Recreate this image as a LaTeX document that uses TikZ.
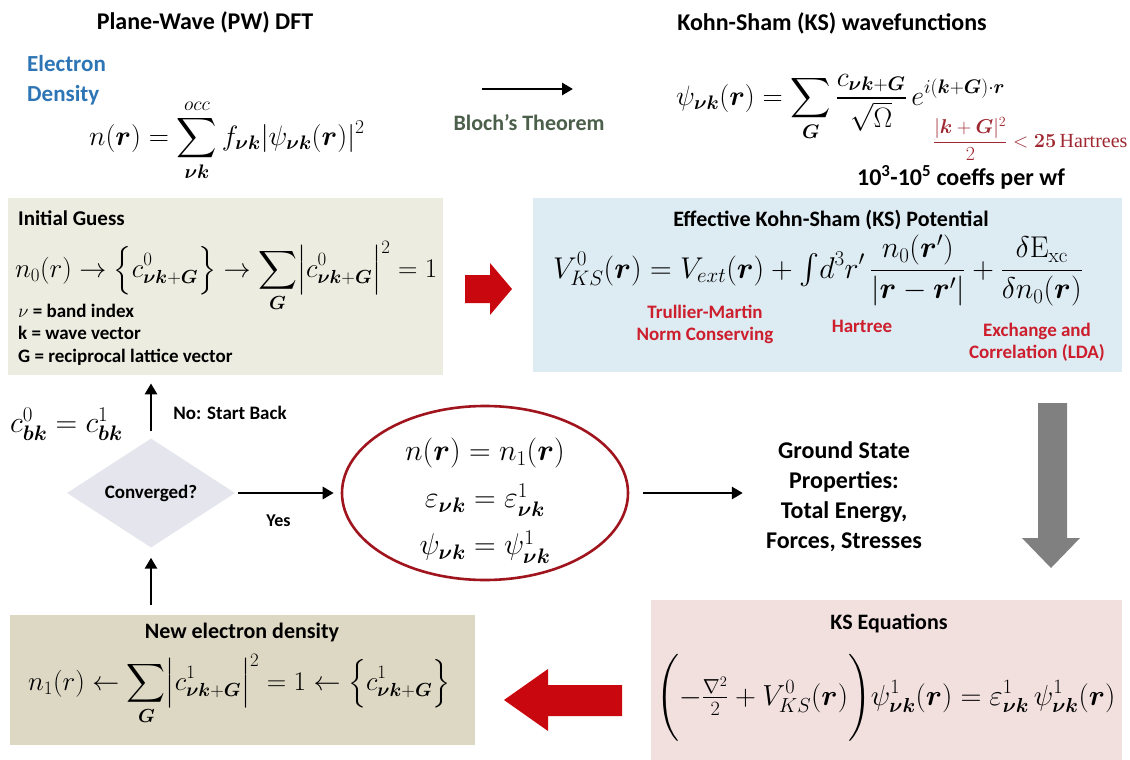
\RequirePackage{fix-cm}
\documentclass[tikz,border=0pt]{standalone}
\usepackage{amsmath,amssymb,bm}
\usepackage[no-math]{fontspec}
\setmainfont{Carlito}
\newfontfamily\serifface{Liberation Serif}
\usetikzlibrary{shapes.geometric, arrows.meta, positioning, calc}
\usepackage{xcolor}

\definecolor{guessfill}{RGB}{236,237,224}
\definecolor{potfill}{RGB}{221,235,242}
\definecolor{densfill}{RGB}{221,216,195}
\definecolor{ksfill}{RGB}{242,224,223}
\definecolor{convfill}{RGB}{229,229,237}
\definecolor{ringred}{RGB}{160,20,30}
\definecolor{arrowred}{RGB}{200,8,14}
\definecolor{arrowgray}{RGB}{128,128,128}
\definecolor{densblue}{RGB}{46,117,182}
\definecolor{blochgreen}{RGB}{75,95,75}
\definecolor{labelred}{RGB}{205,30,45}
\definecolor{cutred}{RGB}{160,40,50}

\newcommand{\vr}{\bm{r}}
\newcommand{\nk}{\bm{\nu k}}

\begin{document}
\begin{tikzpicture}[
    x=1pt, y=-1pt,
    >={Triangle[length=11pt, width=12pt]},
    panel/.style={rectangle, inner sep=0pt, anchor=north west},
    heading/.style={font=\fontsize{22}{26}\selectfont\bfseries, inner sep=0pt},
    toptitle/.style={heading, font=\fontsize{24}{28}\selectfont\bfseries},
    eqn/.style={font=\fontsize{28}{32}\selectfont, inner sep=0pt},
    small/.style={font=\fontsize{19}{22}\selectfont\bfseries, inner sep=0pt},
    redlabel/.style={small, text=labelred, align=center},
    arrow/.style={->, line width=2.8pt}
  ]
    \useasboundingbox[fill=white] (0,0) rectangle (1130,760);

    % --- Top row: PW DFT and KS wavefunctions ---
    \node[toptitle, anchor=base] (pwtitle) at (205,30) {Plane-Wave (PW) DFT};
    \node[heading, font=\fontsize{23}{29}\selectfont\bfseries, text=densblue,
      align=left, anchor=base west] (edens) at (27,101) {Electron\\Density};
    \node[eqn, anchor=base west] (nform) at (89,145)
      {$\displaystyle n(\vr)=\sum_{\nk}^{occ} f_{\nk}|\psi_{\nk}(\vr)|^2$};

    \coordinate (blochL) at (482,89);
    \coordinate (blochR) at (573,89);
    \draw[arrow] (blochL) -- (blochR);
    \node[font=\fontsize{22}{24}\selectfont\bfseries, text=blochgreen, anchor=base,
      inner sep=0pt] (bloch) at (529,130) {Bloch’s Theorem};

    \node[toptitle, anchor=base] (kstitle) at (832,31) {Kohn-Sham (KS) wavefunctions};
    \node[eqn, anchor=base west] (psiform) at (676,105)
      {$\displaystyle \psi_{\nk}(\vr)=\sum_{\bm G}\frac{c_{\nk+\bm G}}{\sqrt{\Omega}}\,e^{i(\bm k+\bm G)\cdot\vr}$};
    \node[text=cutred, font=\fontsize{20}{22}\selectfont, inner sep=0pt, anchor=west] (cutoff)
      at (933,139) {$\dfrac{|\bm k+\bm G|^2}{2}<\mathbf{25}$\,{\serifface Hartrees}};
    \node[font=\fontsize{24}{26}\selectfont\bfseries, anchor=base, inner sep=0pt] (coeffs)
      at (961,185) {10\textsuperscript{3}-10\textsuperscript{5} coeffs per wf};

    % --- Initial guess ---
    \node[panel, fill=guessfill, minimum width=435, minimum height=177] (guess) at (8,198) {};
    \node[heading, font=\fontsize{21}{24}\selectfont\bfseries, anchor=base west]
      (guesstitle) at (18,225) {Initial Guess};
    \node[eqn, font=\fontsize{27}{30}\selectfont, anchor=base west] (guesseq) at (15,277)
      {$\displaystyle n_0(r)\rightarrow\Bigl\{c^0_{\nk+\bm G}\Bigr\}\rightarrow\sum_{\bm G}\Bigl|c^0_{\nk+\bm G}\Bigr|^2=1$};
    \foreach \y/\txt in {317/{$\nu$ = band index}, 339/{k = wave vector},
                         362/{G = reciprocal lattice vector}}
      \node[small, anchor=base west] at (18,\y) {\txt};

    % --- Effective KS potential ---
    \node[panel, fill=potfill, minimum width=589, minimum height=174] (pot) at (533,198) {};
    \node[heading, anchor=base] (pottitle) at (831,226) {Effective Kohn-Sham (KS) Potential};
    \node[eqn, font=\fontsize{30}{34}\selectfont, anchor=base west] (poteq) at (553,278)
      {$\displaystyle V^0_{KS}(\vr)=V_{ext}(\vr)+{\textstyle\int} d^3r'\,\frac{n_0(\vr')}{|\vr-\vr'|}+\frac{\delta\mathrm{E}_{\mathrm{xc}}}{\delta n_0(\vr)}$};
    \node[redlabel] (tmlabel) at (705,324) {Trullier-Martin\\Norm Conserving};
    \node[redlabel] (hlabel) at (862,326) {Hartree};
    \node[redlabel] (xclabel) at (1037,342) {Exchange and\\Correlation (LDA)};

    % block arrow guess -> potential
    \fill[arrowred] (465,275) -- (490,275) -- (490,263) -- (512,289)
      -- (490,315) -- (490,303) -- (465,303) -- cycle;

    % --- Convergence loop ---
    \node[eqn, font=\fontsize{30}{34}\selectfont, anchor=base west] (cbk) at (10,432)
      {$c^0_{\bm{bk}}=c^1_{\bm{bk}}$};
    \node[diamond, fill=convfill, minimum width=168, minimum height=85, inner sep=0pt,
      font=\fontsize{19}{22}\selectfont\bfseries] (conv) at (151,493) {Converged?};
    \node[ellipse, draw=ringred, line width=2.6pt, minimum width=286, minimum height=174,
      inner sep=0pt] (final) at (485,493) {};
    \node[align=center, inner sep=0pt, font=\fontsize{30}{47}\selectfont] (finaltxt) at (485,501)
      {$n(\vr)=n_1(\vr)$\\$\varepsilon_{\nk}=\varepsilon^1_{\nk}$\\$\psi_{\nk}=\psi^1_{\nk}$};
    \node[font=\fontsize{24}{30}\selectfont\bfseries, align=center, inner sep=0pt] (ground)
      at (844,497) {Ground State\\Properties:\\Total Energy,\\Forces, Stresses};

    \draw[arrow, shorten <=7pt, shorten >=8pt] (conv.north) -- (conv.north |- guess.south)
      node[pos=0.4, right=21pt, small] {No: Start Back};
    \draw[arrow, shorten <=3pt, shorten >=7pt] (conv.east) -- (final.west)
      node[pos=0.41, below=20pt, small, font=\fontsize{18}{20}\selectfont\bfseries] {Yes};
    \draw[arrow, shorten <=14pt, shorten >=23pt] (final.east) -- (final.east -| ground.west);

    % gray block arrow potential -> KS equations
    \fill[arrowgray] (1038,403) -- (1067,403) -- (1067,538) -- (1080,538)
      -- (1051,568) -- (1022,538) -- (1038,538) -- cycle;

    % --- New density and KS equations ---
    \node[panel, fill=densfill, minimum width=465, minimum height=130] (dens) at (10,615) {};
    \node[heading, anchor=base] (denstitle) at (242,638) {New electron density};
    \node[eqn, font=\fontsize{27}{30}\selectfont, anchor=base west] (denseq) at (28,690)
      {$\displaystyle n_1(r)\leftarrow\sum_{\bm G}\Bigl|c^1_{\nk+\bm G}\Bigr|^2=1\leftarrow\Bigl\{c^1_{\nk+\bm G}\Bigr\}$};
    \draw[arrow, shorten <=10pt, shorten >=10pt] (dens.north -| conv) -- (conv.south);

    \node[panel, fill=ksfill, minimum width=471, minimum height=160] (kseq) at (651,600) {};
    \node[heading, anchor=base] (kstitle2) at (889,629) {KS Equations};
    \node[eqn, font=\fontsize{29}{32}\selectfont, anchor=base west] (kseqn) at (656,705)
      {$\displaystyle\Biggl(-\tfrac{\nabla^2}{2}+V^0_{KS}(\vr)\Biggr)\psi^1_{\nk}(\vr)=\varepsilon^1_{\nk}\,\psi^1_{\nk}(\vr)$};

    % block arrow KS equations -> new density
    \fill[arrowred] (622,685) -- (548,685) -- (548,669) -- (504,700)
      -- (548,731) -- (548,716) -- (622,716) -- cycle;

  \end{tikzpicture}
\end{document}
